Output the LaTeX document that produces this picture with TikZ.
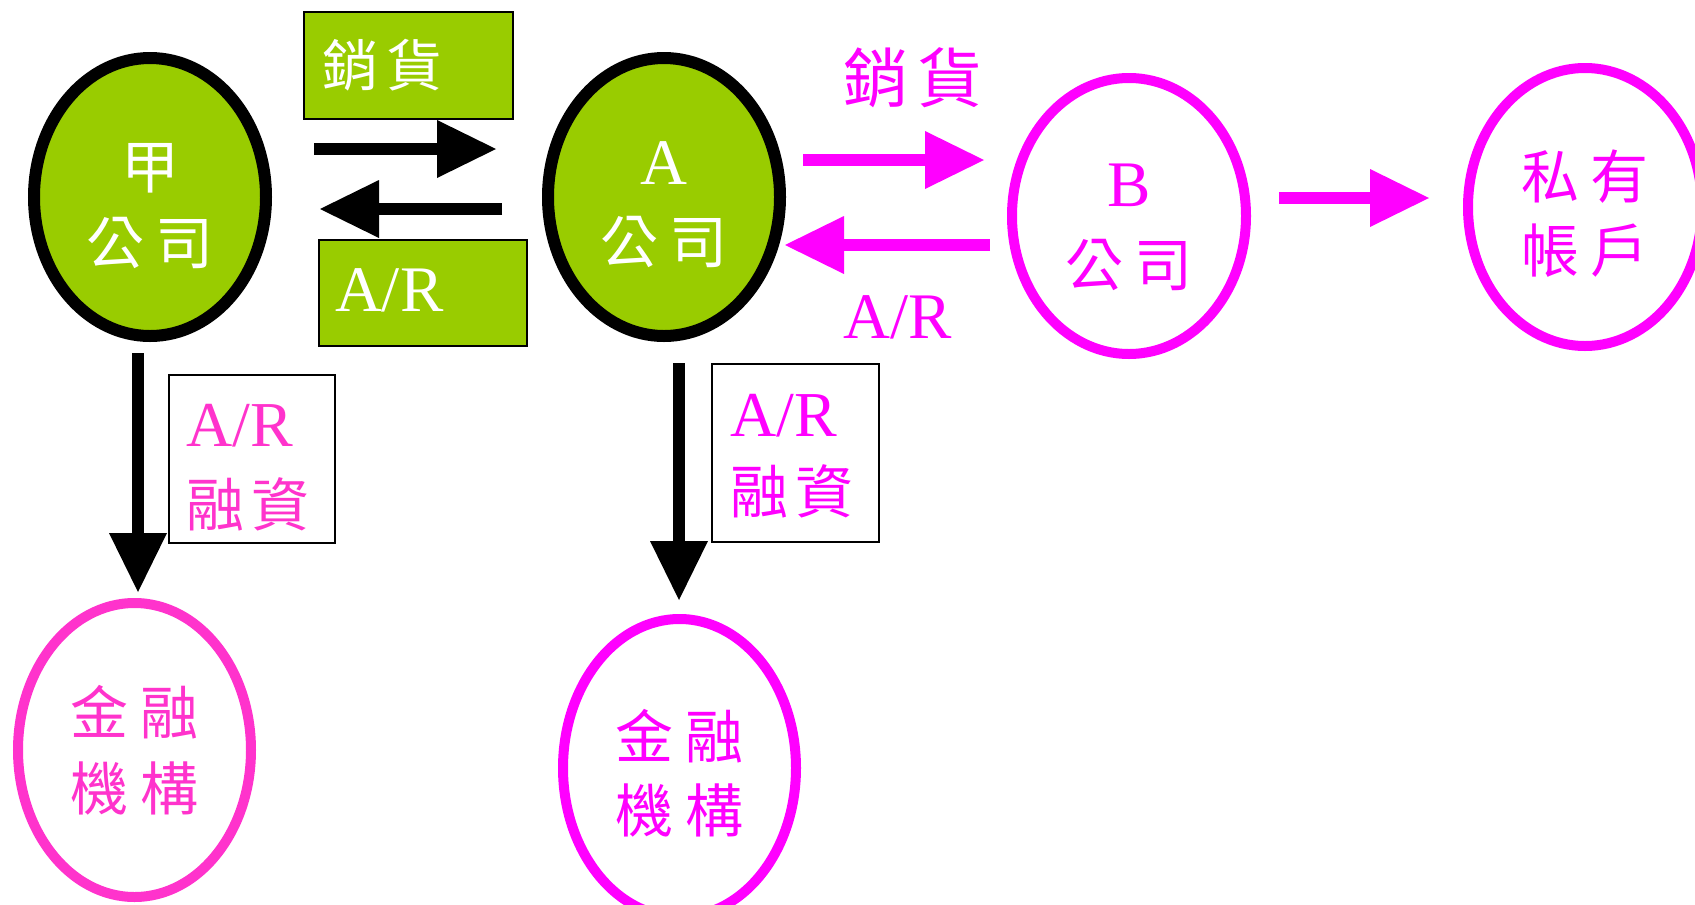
\documentclass[tikz,border=0pt]{standalone}
\usepackage{fontspec}
\setmainfont{Liberation Serif}
\newfontfamily\cjk{Noto Sans CJK TC}
\usetikzlibrary{shapes.geometric,arrows.meta}
\definecolor{grn}{HTML}{99CC00}
\definecolor{mag}{HTML}{FF00FF}
\definecolor{pnk}{HTML}{FF33CC}
\newcommand\cjtwo[3][12pt]{{\cjk #2\hspace{#1}#3}}
\begin{document}
\begin{tikzpicture}[x=1pt,y=-1pt,
  firm/.style={ellipse, inner sep=0pt, align=center, text depth=0pt},
  greenfirm/.style={firm, draw=black, line width=12pt, fill=grn, text=white,
    minimum width=232pt, minimum height=278pt},
  magfirm/.style={firm, draw=mag, line width=10pt, fill=white, text=mag},
  pinkfirm/.style={firm, draw=pnk, line width=10pt, fill=white, text=pnk},
  gbox/.style={rectangle, draw=black, line width=1.8pt, fill=grn, text=white,
    align=left, inner ysep=0pt, font=\fontsize{56}{70}\selectfont},
  wbox/.style={rectangle, draw=black, line width=1.8pt, fill=white,
    align=left, inner ysep=0pt, text height=0pt},
  flow/.style={line width=12pt, -{Triangle[length=59pt,width=58pt,line width=0pt]}},
  lbl/.style={font=\fontsize{65}{76}\selectfont, text=mag}
]
\useasboundingbox (0,0) rectangle (1695,905);

% firms
\node[greenfirm, text height=134pt, font=\fontsize{58}{76}\selectfont] (jia) at (150,197)
  {{\cjk 甲}\\\cjtwo{公}{司}};
\node[greenfirm, text height=132pt, font=\fontsize{58}{79}\selectfont] (A) at (664,197)
  {{\fontsize{65}{79}\selectfont A}\\\cjtwo{公}{司}};
\node[magfirm, minimum width=234pt, minimum height=276pt, text height=140pt,
  font=\fontsize{58}{80}\selectfont] (B) at (1129,216)
  {{\fontsize{65}{80}\selectfont B}\\\cjtwo{公}{司}};
\node[magfirm, minimum width=234pt, minimum height=278pt, text height=130pt,
  font=\fontsize{58}{74}\selectfont] (priv) at (1585,207)
  {\cjtwo{私}{有}\\\cjtwo{帳}{戶}};
\node[pinkfirm, minimum width=233pt, minimum height=294pt, text height=120pt,
  font=\fontsize{58}{76}\selectfont] (bankL) at (134.5,750)
  {\cjtwo{金}{融}\\\cjtwo{機}{構}};
\node[magfirm, minimum width=233pt, minimum height=298pt, text height=128pt,
  font=\fontsize{58}{74}\selectfont] (bankR) at (679.5,768)
  {\cjtwo{金}{融}\\\cjtwo{機}{構}};

% named arrow ends
\coordinate (s1) at (314,149);  \coordinate (t1) at (496,149);
\coordinate (s2) at (502,209);  \coordinate (t2) at (320,209);
\coordinate (s3) at (803,160);  \coordinate (t3) at (984,160);
\coordinate (s4) at (990,245);  \coordinate (t4) at (785,245);
\coordinate (s5) at (1279,198); \coordinate (t5) at (1429,198);
\coordinate (s6) at (138,353);  \coordinate (t6) at (138,592);
\coordinate (s7) at (679,363);  \coordinate (t7) at (679,600);

\draw[flow, black] (s1) -- (t1);
\draw[flow, black] (s2) -- (t2);
\draw[flow, mag] (s3) -- (t3);
\draw[flow, mag] (s4) -- (t4);
\draw[flow, mag] (s5) -- (t5);
\draw[flow, black] (s6) -- (t6);
\draw[flow, black] (s7) -- (t7);

% boxes
\node[gbox, inner xsep=18pt, text width=173pt, minimum height=107pt] (salesbox) at (408.5,65.5)
  {\cjtwo[9pt]{銷}{貨}};
\node[gbox, inner xsep=16pt, text width=176pt, minimum height=106pt] (arbox) at (423,293)
  {\fontsize{65}{76}\selectfont\raisebox{5pt}{A/R}};
\node[wbox, text=pnk, inner xsep=17pt, text width=132pt, minimum height=168pt,
  text depth=26pt, font=\fontsize{64}{80}\selectfont] (finL) at (252,459)
  {A/R\\{\fontsize{58}{80}\selectfont\cjtwo[8pt]{融}{資}}};
\node[wbox, text=mag, inner xsep=18pt, text width=131pt, minimum height=178pt,
  text depth=34pt, font=\fontsize{64}{77}\selectfont] (finR) at (795.5,453)
  {A/R\\{\fontsize{58}{77}\selectfont\cjtwo[8pt]{融}{資}}};

% labels
\node[lbl] (salesB) at (913,78) {\cjtwo[9pt]{銷}{貨}};
\node[lbl, anchor=base] (arB) at (898,338) {A/R};
\end{tikzpicture}
\end{document}
